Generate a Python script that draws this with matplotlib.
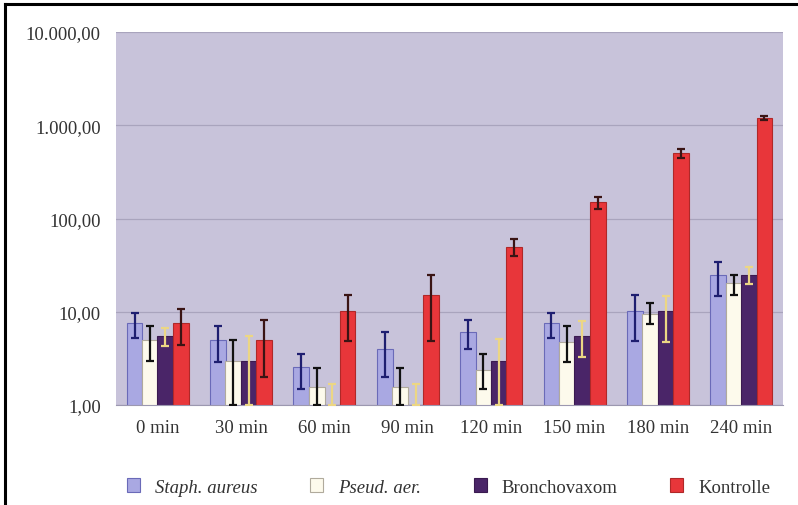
import numpy as np
import matplotlib
matplotlib.use("Agg")
import matplotlib.pyplot as plt
from matplotlib.lines import Line2D

plt.rcParams['font.family'] = ['Liberation Serif', 'DejaVu Serif']

zeiten = ["0 min", "30 min", "60 min", "90 min", "120 min", "150 min", "180 min", "240 min"]
serien = ["Staph. aureus", "Pseud. aer.", "Bronchovaxom", "Kontrolle"]

# Mittelwerte und Fehlergrenzen (unten / oben)
staph = [7.6, 5.0, 2.55, 4.0, 6.0, 7.6, 10.1, 24.7]
staph_lo = [5.2, 2.9, 1.5, 2.0, 4.0, 5.2, 4.9, 14.7]
staph_hi = [9.7, 7.0, 3.5, 6.0, 8.2, 9.7, 15.0, 34.0]

pseud = [5.0, 3.0, 1.55, 1.55, 2.4, 4.7, 9.4, 20.3]
pseud_lo = [3.0, 1.0, 1.0, 1.0, 1.5, 2.9, 7.4, 15.0]
pseud_hi = [7.0, 5.0, 2.5, 2.5, 3.5, 7.0, 12.3, 25.0]

broncho = [5.5, 3.0, 1.0, 1.0, 3.0, 5.5, 10.1, 24.7]
broncho_lo = [4.3, 1.0, 1.0, 1.0, 1.0, 3.3, 4.7, 20.0]
broncho_hi = [6.7, 5.5, 1.7, 1.7, 5.1, 8.0, 14.7, 30.0]

kontrolle = [7.6, 5.0, 10.1, 15.0, 49.0, 150.0, 500.0, 1200.0]
kontrolle_lo = [4.4, 2.0, 4.9, 4.9, 40.0, 127.0, 450.0, 1150.0]
kontrolle_hi = [10.7, 8.2, 15.0, 25.0, 60.0, 170.0, 560.0, 1260.0]

y_ticks = [1, 10, 100, 1000, 10000]
y_labels = ["1,00", "10,00", "100,00", "1.000,00", "10.000,00"]

farben = ["#a9a8e2", "#fdfaec", "#4a2568", "#e8363a"]
kanten = ["#6a6ab8", "#b0aa9c", "#3a1a50", "#b02828"]
fehlerfarben = ["#1e1e70", "#111111", "#ecd684", "#3a1414"]

daten = [(staph, staph_lo, staph_hi), (pseud, pseud_lo, pseud_hi),
         (broncho, broncho_lo, broncho_hi), (kontrolle, kontrolle_lo, kontrolle_hi)]

fig = plt.figure(figsize=(7.98, 5.06), dpi=100)
ax = fig.add_axes([116/798, 1-406/506, 667/798, 373/506])
ax.set_facecolor("#c8c3da")
ax.set_yscale("log")

x = np.arange(len(zeiten))
breite = 0.19
schritt = 0.185
handles = []
for i, (werte, lo, hi) in enumerate(daten):
    pos = x + (i - 1.5) * schritt
    werte = np.array(werte)
    err = [werte - np.array(lo), np.array(hi) - werte]
    b = ax.bar(pos, werte, breite, color=farben[i], edgecolor=kanten[i], linewidth=0.8, zorder=2)
    ax.errorbar(pos, werte, yerr=err, fmt="none", ecolor=fehlerfarben[i],
                elinewidth=1.6, capsize=3, capthick=1.6, zorder=3)
    handles.append(b)

ax.set_ylim(1, 10000)
ax.set_xlim(-0.5, len(zeiten) - 0.5)
ax.set_yticks(y_ticks)
ax.set_yticklabels(y_labels)
ax.yaxis.set_minor_locator(matplotlib.ticker.NullLocator())
ax.set_xticks(x)
ax.set_xticklabels(zeiten)
ax.tick_params(axis="both", length=0, labelsize=13.5, colors="#333333")
ax.tick_params(axis="y", pad=11)
ax.tick_params(axis="x", pad=10)
ax.grid(axis="y", color="#a9a4bd", linewidth=0.9, zorder=0)
ax.set_axisbelow(True)
for s in ["top", "right", "left"]:
    ax.spines[s].set_visible(False)
ax.spines["bottom"].set_color("#9c98b0")

leg = fig.legend(handles, serien, loc="center", bbox_to_anchor=(0.562, 1-488/506), ncol=4,
                 frameon=False, fontsize=13.5, handlelength=0.7, handleheight=0.7,
                 handletextpad=0.8, columnspacing=2.8)
for t in leg.get_texts()[:2]:
    t.set_style("italic")
for t in leg.get_texts():
    t.set_color("#333333")

# Rahmen links und oben
fig.add_artist(Line2D([5/798, 5/798], [0, 1-5/506], color="black", linewidth=2.2))
fig.add_artist(Line2D([5/798, 1], [1-5/506, 1-5/506], color="black", linewidth=2.2))

fig.savefig("out.png", dpi=100)
